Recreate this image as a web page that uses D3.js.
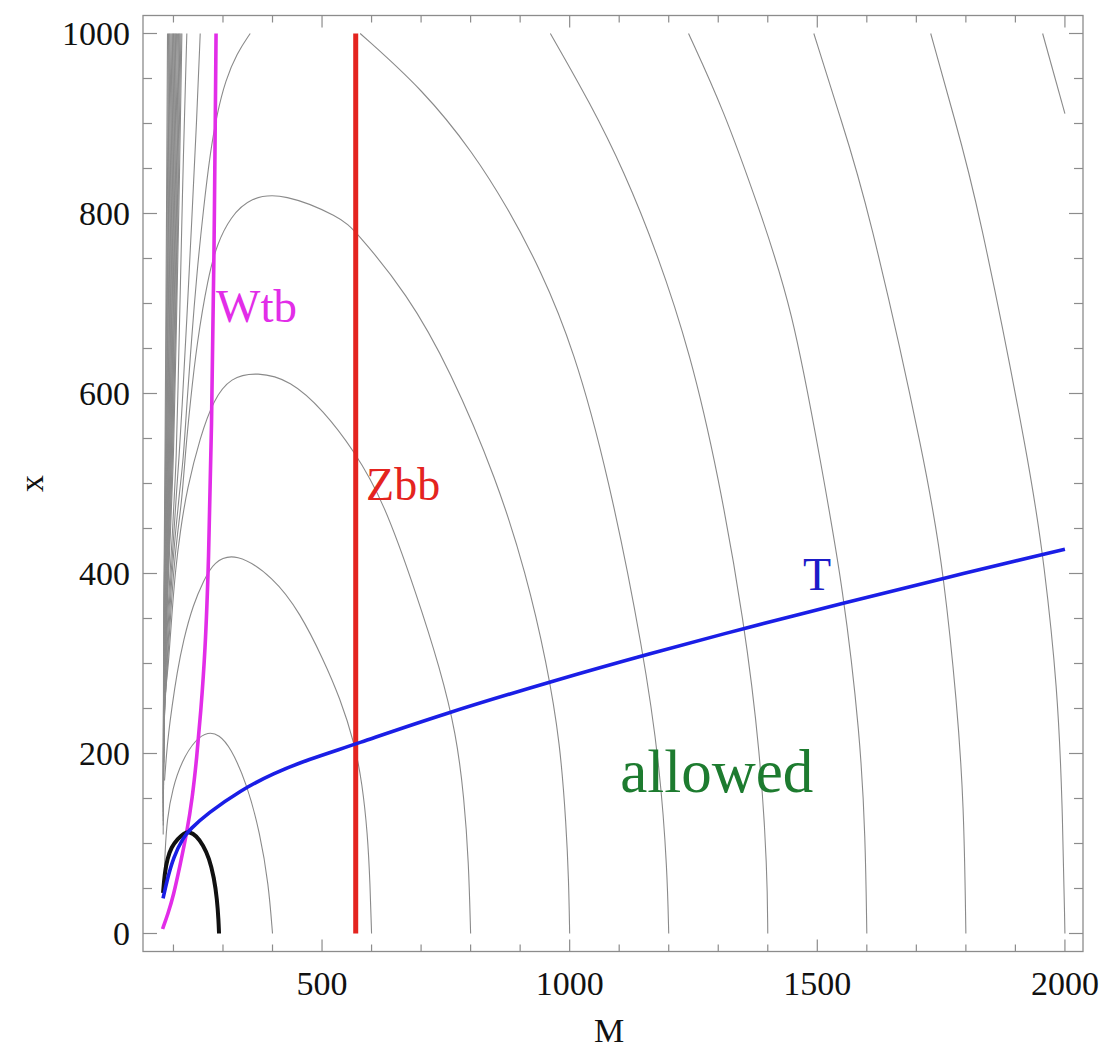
<!DOCTYPE html>
<html>
<head>
<meta charset="utf-8">
<script src="https://cdn.jsdelivr.net/npm/d3@7"></script>
<style>
  body { margin: 0; background: #fff; }
  svg { display: block; }
  text { font-family: "Liberation Serif", "Times New Roman", Times, serif; }
</style>
</head>
<body>
<svg id="chart" width="1105" height="1050"></svg>
<script>
// ---- plotted region (M, x) ----
const mRange = [175, 2000];
const xRange = [0, 1000];

// ---- ticks ----
const xMajorTicks = [500, 1000, 1500, 2000];
const xMinorTicks = [200, 300, 400, 600, 700, 800, 900, 1100, 1200, 1300, 1400, 1600, 1700, 1800, 1900];
const yMajorTicks = [0, 200, 400, 600, 800, 1000];
const yMinorTicks = [50, 100, 150, 250, 300, 350, 450, 500, 550, 650, 700, 750, 850, 900, 950];

// ---- gray contour lines, points as [M, x] ----
const contour400 = [[181,62],[183,90],[187,127],[198,161],[217,192],[245,216],[270,224],[292,221],[315,207],[348,167],[375,111],[392,55],[400,0]];
const contour600 = [[182,170],[186,200],[190,222],[197,252],[207,289],[220,326],[240,366],[261,392],[281,413],[325,424],[402,396],[456,356],[503,304],[536,262],[566,211],[581,167],[592,111],[597,55],[600,0]];
const contour800 = [[181,250],[185,275],[190,300],[197,356],[204,404],[214,448],[227,493],[254,552],[281,593],[315,618],[369,624],[436,615],[503,581],[564,537],[624,481],[692,375],[738,295],[771,222],[787,150],[796,80],[800,0]];
const contour1000 = [[181,240],[184,265],[188,300],[195,360],[200,400],[208,445],[217,481],[225,540],[234,590],[247,655],[270,730],[288,766],[315,796],[355,818],[422,823],[537,796],[567,781],[672,711],[759,626],[853,504],[912,400],[954,300],[981,211],[993,120],[998,60],[1000,0]];
const contour1200L = [[181,230],[183,260],[187,300],[193,360],[197,400],[204,445],[212,490],[220,526],[227,589],[237,663],[247,733],[261,807],[274,867],[288,911],[305,948],[328,978],[355,1000]];
const contour1200R = [[577,1000],[705,937],[806,867],[874,807],[941,738],[1008,650],[1078,510],[1150,311],[1183,181],[1197,70],[1200,0]];
const contour1400L = [[181,220],[182.5,260],[185.5,300],[191,360],[195,400],[201,445],[206,490],[211,526],[217,580],[227,682],[237,793],[247,904],[254,1000]];
const contour1400R = [[961,1000],[1042,922],[1109,848],[1177,756],[1244,644],[1300,510],[1352,348],[1385,200],[1399,70],[1400,0]];
const contour1600L = [[181,210],[182,260],[184.5,300],[189,360],[193,400],[198,445],[202,490],[205.6,526],[209,600],[214,719],[220,867],[227,1000]];
const contour1600R = [[1240,1000],[1311,915],[1379,811],[1450,695],[1508,520],[1552,385],[1587,218],[1597,107],[1600,0]];
const contour1800L = [[180.5,200],[181.5,260],[183.5,300],[187,360],[190,400],[194,445],[197,490],[200,526],[205,650],[211,800],[217,1000]];
const contour1800R = [[1493,1000],[1546,907],[1600,815],[1722,515],[1756,396],[1782,256],[1796,144],[1800,0]];
const contour2000L = [[180.5,190],[181,260],[183,300],[185.5,360],[188.5,400],[192,445],[195,490],[198,526],[203,650],[208,800],[213,1000]];
const contour2000R = [[1729,1000],[1776,907],[1823,815],[1931,515],[1958,411],[1985,274],[1995,144],[2000,0]];
const contour2200L = [[180,180],[181,260],[182.5,300],[184.5,360],[187,400],[190,445],[193,490],[196,526],[200,650],[205,800],[210,1000]];
const contour2200R = [[1955,1000],[2000,911]];
const contour2400L = [[180,170],[180.5,260],[182,300],[183.5,360],[186,400],[188.5,445],[191,490],[194,526],[198,650],[202,800],[206,1000]];
const contour2600L = [[180,160],[180.5,260],[181.5,300],[183,360],[185,400],[187,445],[189,490],[192,526],[195.5,650],[199,800],[203,1000]];
const contour2800L = [[179.5,150],[180,260],[181,300],[182.5,360],[184,400],[185.5,445],[187.5,490],[190,526],[193,650],[196,800],[200,1000]];
const contour3000L = [[179.5,140],[180,260],[180.5,300],[182,360],[183,400],[184.5,445],[186,490],[188,526],[190.5,650],[193,800],[197,1000]];
const contour3200L = [[179.5,130],[180,300],[181.5,360],[182,400],[183.5,445],[184.5,490],[186,526],[188,650],[190,800],[193,1000]];
const contour3400L = [[179.5,120],[180,300],[181,360],[181.5,400],[182.5,445],[183.5,490],[184,526],[185.5,650],[187.5,800],[190,1000]];

// dense band of contour lines hugging the left edge
const contourBand1 = [[180.5,195],[183,300],[189,400],[199,526],[209.5,800],[215,1000]];
const contourBand2 = [[180,185],[182.5,300],[187.5,400],[197,526],[206.5,800],[211.5,1000]];
const contourBand3 = [[180,175],[182,300],[186.5,400],[195,526],[203.5,800],[208,1000]];
const contourBand4 = [[180,165],[181.5,300],[185.5,400],[193,526],[200.5,800],[204.5,1000]];
const contourBand5 = [[179.5,155],[181,300],[184.5,400],[191,526],[197.5,800],[201.5,1000]];
const contourBand6 = [[179.5,145],[180.5,300],[183.5,400],[189,526],[194.5,800],[198.5,1000]];
const contourBand7 = [[179.5,135],[180.2,300],[182.5,400],[187,526],[191.5,800],[195,1000]];
const contourBand8 = [[179.5,125],[180,300],[181.8,400],[185,526],[189,800],[191.5,1000]];
const contourBand9 = [[179.3,110],[179.8,300],[181,400],[183,526],[186,800],[188,1000]];

// ---- boundary curves ----
const blackCurve = [[179,45],[182,66],[188,84],[196,96],[208,105],[222,112],[232,113],[246,109],[260,98],[272,84],[282,62],[288,38],[291,15],[292,0]];
const tCurve = [[179,39],[187,59],[200,85],[220,107],[234,116],[268,133],[335,159],[402,178],[470,193],[566,210],[739,243],[981,283],[1156,310],[1358,340],[1553,367],[1756,395],[2000,427]];
const wtbCurve = [[178,5],[189,22],[200,42],[213,75],[227,112],[238,150],[247,195],[255,245],[264,312],[271,411],[277,560],[282,748],[286,1000]];
const zbbMass = 568;

// ---- curve labels: text and anchor [M, x] (start of baseline) ----
const curveLabels = [
  { key: "wtb", text: "Wtb", at: [286, 680] },
  { key: "zbb", text: "Zbb", at: [589, 482] },
  { key: "t", text: "T", at: [1471, 382] },
  { key: "allowed", text: "allowed", at: [1102, 157] }
];

// ---- drawing ----
const labelStyle = {
  wtb: { fill: "#e22de8", size: 47 },
  zbb: { fill: "#e4241f", size: 46 },
  t: { fill: "#1c1cc8", size: 46 },
  allowed: { fill: "#1d7b2f", size: 61 }
};

const svg = d3.select("#chart");
svg.append("rect").attr("width", 1105).attr("height", 1050).attr("fill", "#fff");

const frame = { left: 143, right: 1083, top: 15.5, bottom: 951.5 };
const mPad = 0.02 * (mRange[1] - mRange[0]);
const xPad = 0.02 * (xRange[1] - xRange[0]);
const xScale = d3.scaleLinear().domain([mRange[0] - mPad, mRange[1] + mPad]).range([frame.left, frame.right]);
const yScale = d3.scaleLinear().domain([xRange[0] - xPad, xRange[1] + xPad]).range([frame.bottom, frame.top]);

svg.append("defs").append("clipPath").attr("id", "plotClip")
  .append("rect")
  .attr("x", frame.left).attr("y", frame.top)
  .attr("width", frame.right - frame.left).attr("height", frame.bottom - frame.top);

const line = d3.line()
  .x(d => xScale(d[0]))
  .y(d => yScale(d[1]))
  .curve(d3.curveBasis);

const plot = svg.append("g").attr("clip-path", "url(#plotClip)");

const contours = [
  contour400, contour600, contour800, contour1000,
  contour1200L, contour1200R, contour1400L, contour1400R,
  contour1600L, contour1600R, contour1800L, contour1800R,
  contour2000L, contour2000R, contour2200L, contour2200R,
  contour2400L, contour2600L, contour2800L, contour3000L,
  contour3200L, contour3400L
];
const band = [
  contourBand1, contourBand2, contourBand3, contourBand4, contourBand5,
  contourBand6, contourBand7, contourBand8, contourBand9
];

plot.append("g")
  .selectAll("path")
  .data(contours.concat(band))
  .join("path")
  .attr("d", line)
  .attr("fill", "none")
  .attr("stroke", "#8a8a8a")
  .attr("stroke-width", 1.1);

// Zbb threshold: vertical line at fixed M
plot.append("line")
  .attr("x1", xScale(zbbMass)).attr("x2", xScale(zbbMass))
  .attr("y1", yScale(xRange[0])).attr("y2", yScale(xRange[1]))
  .attr("stroke", "#e4241f")
  .attr("stroke-width", 5);

plot.append("path")
  .datum(wtbCurve)
  .attr("d", line)
  .attr("fill", "none")
  .attr("stroke", "#e22de8")
  .attr("stroke-width", 3.6);

plot.append("path")
  .datum(blackCurve)
  .attr("d", line)
  .attr("fill", "none")
  .attr("stroke", "#111")
  .attr("stroke-width", 4);

plot.append("path")
  .datum(tCurve)
  .attr("d", line)
  .attr("fill", "none")
  .attr("stroke", "#1a1ee6")
  .attr("stroke-width", 3.6);

// curve labels
svg.append("g")
  .selectAll("text")
  .data(curveLabels)
  .join("text")
  .attr("x", d => xScale(d.at[0]))
  .attr("y", d => yScale(d.at[1]))
  .attr("fill", d => labelStyle[d.key].fill)
  .attr("font-size", d => labelStyle[d.key].size)
  .text(d => d.text);

// frame
const frameColor = "#8c8c8c";
svg.append("rect")
  .attr("x", frame.left).attr("y", frame.top)
  .attr("width", frame.right - frame.left).attr("height", frame.bottom - frame.top)
  .attr("fill", "none")
  .attr("stroke", frameColor)
  .attr("stroke-width", 1.3);

const ticks = svg.append("g").attr("stroke", frameColor).attr("stroke-width", 1.2);
const xTickLen = { major: 12, minor: 7 };
const yTickLen = { major: 14, minor: 9 };

function xTicks(values, len) {
  values.forEach(v => {
    const px = xScale(v);
    ticks.append("line").attr("x1", px).attr("x2", px).attr("y1", frame.bottom).attr("y2", frame.bottom - len);
    ticks.append("line").attr("x1", px).attr("x2", px).attr("y1", frame.top).attr("y2", frame.top + len);
  });
}
function yTicks(values, len) {
  values.forEach(v => {
    const py = yScale(v);
    ticks.append("line").attr("x1", frame.left).attr("x2", frame.left + len).attr("y1", py).attr("y2", py);
    ticks.append("line").attr("x1", frame.right).attr("x2", frame.right - len).attr("y1", py).attr("y2", py);
  });
}
xTicks(xMajorTicks, xTickLen.major);
xTicks(xMinorTicks, xTickLen.minor);
yTicks(yMajorTicks, yTickLen.major);
yTicks(yMinorTicks, yTickLen.minor);

// tick labels
const tickFont = 34;
svg.append("g")
  .selectAll("text")
  .data(xMajorTicks)
  .join("text")
  .attr("x", d => xScale(d))
  .attr("y", frame.bottom + 43)
  .attr("text-anchor", "middle")
  .attr("font-size", tickFont)
  .attr("fill", "#111")
  .text(d => d);

svg.append("g")
  .selectAll("text")
  .data(yMajorTicks)
  .join("text")
  .attr("x", frame.left - 13)
  .attr("y", d => yScale(d) + 11)
  .attr("text-anchor", "end")
  .attr("font-size", tickFont)
  .attr("fill", "#111")
  .text(d => d);

// axis titles
svg.append("text")
  .attr("x", 609)
  .attr("y", 1042)
  .attr("text-anchor", "middle")
  .attr("font-size", tickFont)
  .attr("fill", "#111")
  .text("M");

svg.append("text")
  .attr("transform", `translate(43, ${(frame.top + frame.bottom) / 2}) rotate(-90)`)
  .attr("text-anchor", "middle")
  .attr("font-size", tickFont)
  .attr("fill", "#111")
  .text("x");
</script>
</body>
</html>
